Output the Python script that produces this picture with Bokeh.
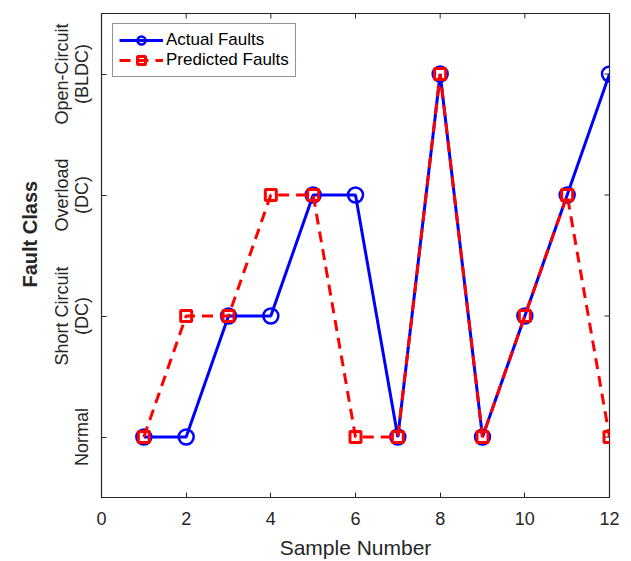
import math
from bokeh.plotting import figure
from bokeh.models import FixedTicker, Legend, LegendItem, Range1d, Title
from bokeh.embed import file_html
from bokeh.resources import INLINE

samples = [1, 2, 3, 4, 5, 6, 7, 8, 9, 10, 11, 12]
actual = [0, 0, 1, 1, 2, 2, 0, 3, 0, 1, 2, 3]
predicted = [0, 1, 1, 2, 2, 0, 0, 3, 0, 1, 2, 0]
class_labels = ["Normal", "Short Circuit\n(DC)", "Overload\n(DC)", "Open-Circuit\n(BLDC)"]
class_ticks = [0, 1, 2, 3]
x_ticks = [0, 2, 4, 6, 8, 10, 12]
X_MIN, X_MAX = 0, 12
Y_MIN, Y_MAX = -0.5, 3.5

FONT = "Liberation Sans"
TXT = "#262626"

p = figure(width=631, height=561, output_backend="svg", toolbar_location=None,
           x_range=Range1d(X_MIN, X_MAX), y_range=Range1d(Y_MIN, Y_MAX),
           min_border_left=101, min_border_right=22, min_border_top=13, min_border_bottom=59)
p.grid.visible = False
p.outline_line_color = TXT
p.outline_line_width = 1.2

xa = p.xaxis[0]
xa.ticker = FixedTicker(ticks=x_ticks)
xa.axis_label = "Sample Number"
ya = p.yaxis[0]
ya.ticker = FixedTicker(ticks=class_ticks)
ya.major_label_overrides = {t: lab for t, lab in zip(class_ticks, class_labels)}
ya.major_label_orientation = "vertical"

for ax in (xa, ya):
    ax.axis_line_color = TXT
    ax.major_tick_line_color = TXT
    ax.major_tick_in = 5
    ax.major_tick_out = 0
    ax.minor_tick_line_color = None
    ax.major_label_text_font = FONT
    ax.major_label_text_font_size = "18px"
    ax.major_label_text_color = TXT
    ax.major_label_text_line_height = 1.0
xa.major_label_standoff = 14
xa.axis_label_standoff = 8
xa.axis_label_text_font = FONT
xa.axis_label_text_font_size = "21px"
xa.axis_label_text_color = TXT
xa.axis_label_text_font_style = "normal"
xa.axis_label_text_line_height = 1.0
ya.major_label_standoff = 10

# y-axis title, a little above the frame centre as in the reference
p.add_layout(Title(text="Fault Class", align="left", offset=210, standoff=16,
                   text_font=FONT, text_font_size="20px", text_font_style="bold",
                   text_color=TXT), "left")

# mirrored inward ticks on the top and right edges of the box
p.scatter(x_ticks, [Y_MAX] * len(x_ticks), marker="dash", angle=math.pi / 2, size=10,
          line_color=TXT, line_width=1)
p.scatter([X_MAX] * len(class_ticks), class_ticks, marker="dash", size=10,
          line_color=TXT, line_width=1)

BLUE = "#0000FF"
RED = "#FF0000"
l1 = p.line(samples, actual, line_color=BLUE, line_width=3)
s1 = p.scatter(samples, actual, marker="circle", size=15, fill_color=None,
               line_color=BLUE, line_width=2.5)
l2 = p.line(samples, predicted, line_color=RED, line_width=3, line_dash="11 7")
s2 = p.scatter(samples, predicted, marker="square", size=11, fill_color=None,
               line_color=RED, line_width=3)

legend = Legend(items=[LegendItem(label="Actual Faults", renderers=[l1, s1]),
                       LegendItem(label="Predicted Faults", renderers=[l2, s2])],
                location=(11, 420))
legend.border_line_color = TXT
legend.border_line_width = 1.2
legend.label_text_font = FONT
legend.label_text_font_size = "17px"
legend.label_text_color = "#000000"
legend.glyph_width = 44
legend.glyph_height = 20
legend.label_height = 20
legend.label_standoff = 3
legend.spacing = 0
legend.padding = 6
legend.background_fill_alpha = 1
p.add_layout(legend)

open("out.html", "w").write(file_html(p, INLINE))
